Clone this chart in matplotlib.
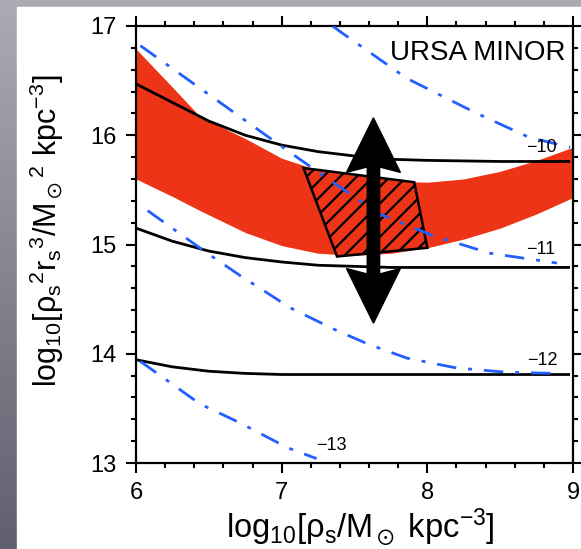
import numpy as np
import matplotlib
matplotlib.use('Agg')
import matplotlib.pyplot as plt
from matplotlib.patches import Polygon, Rectangle
from matplotlib.colors import LinearSegmentedColormap
from matplotlib.ticker import MultipleLocator

plt.rcParams['font.family'] = ['Liberation Sans', 'DejaVu Sans']
plt.rcParams['mathtext.fontset'] = 'custom'
plt.rcParams['mathtext.rm'] = 'Liberation Sans'
plt.rcParams['mathtext.it'] = 'Liberation Sans:italic'
plt.rcParams['mathtext.fallback'] = 'stixsans'
plt.rcParams['hatch.linewidth'] = 1.6

# black contours (flat at large rho_s)
x_black = [6.0, 6.25, 6.5, 6.75, 7.0, 7.25, 7.5, 7.75, 8.0, 8.5, 8.97]
y_m10 = [16.47, 16.30, 16.13, 16.00, 15.91, 15.85, 15.81, 15.78, 15.77, 15.76, 15.76]
y_m11 = [15.15, 15.03, 14.94, 14.88, 14.84, 14.81, 14.80, 14.79, 14.79, 14.79, 14.79]
y_m12 = [13.945, 13.88, 13.84, 13.82, 13.81, 13.81, 13.81, 13.81, 13.81, 13.81, 13.81]

# blue dash-dot contours
xb1 = [7.35, 7.4, 7.86, 8.34, 8.7, 8.98]
yb1 = [17.0, 16.95, 16.52, 16.20, 15.98, 15.89]
xb2 = [6.03, 6.44, 7.06, 7.33, 7.67, 8.04, 8.43, 8.89]
yb2 = [16.82, 16.43, 15.84, 15.59, 15.28, 15.08, 14.92, 14.83]
xb3 = [6.08, 6.49, 6.71, 7.06, 7.35, 7.59, 7.86, 8.2, 8.55, 8.89]
yb3 = [15.31, 14.92, 14.72, 14.42, 14.23, 14.09, 13.96, 13.87, 13.83, 13.82]
xb4 = [6.03, 6.44, 6.71, 7.04, 7.24]
yb4 = [13.93, 13.54, 13.37, 13.14, 13.04]

# red allowed band
x_band = [6.0, 6.25, 6.44, 6.75, 7.0, 7.25, 7.5, 7.75, 8.0, 8.25, 8.5, 8.75, 9.0]
band_hi = [16.79, 16.44, 16.17, 15.97, 15.79, 15.68, 15.62, 15.58, 15.57, 15.60, 15.67, 15.77, 15.89]
band_lo = [15.60, 15.44, 15.31, 15.11, 14.99, 14.92, 14.90, 14.92, 14.97, 15.05, 15.15, 15.28, 15.43]

# hatched region corners
box_x = [7.15, 7.91, 8.0, 7.38]
box_y = [15.70, 15.57, 14.97, 14.89]

# double arrow
arrow_x = 7.63
arrow_top = 16.16
arrow_bot = 14.28

contour_labels = ['\u221210', '\u221211', '\u221212', '\u221213']
label_x = [8.78, 8.78, 8.79, 7.34]
label_y = [15.89, 14.95, 13.94, 13.16]

blue = '#2160ff'
red = '#ee3416'

fig = plt.figure(figsize=(5.81, 5.49), dpi=100)

# gray gradient frame behind a white panel
bg = fig.add_axes([0, 0, 1, 1], zorder=-10)
bg.axis('off')
cmap = LinearSegmentedColormap.from_list('g', ['#5f5f6e', '#ababb4'])
bg.imshow(np.linspace(0, 1, 256)[:, None], cmap=cmap, aspect='auto',
          extent=[0, 1, 0, 1], origin='lower')
bg.add_patch(Rectangle((17 / 581, 0), 1, 1 - 7 / 549, color='white',
                       transform=bg.transAxes))
bg.set_xlim(0, 1)
bg.set_ylim(0, 1)

ax = fig.add_axes([136 / 581, 1 - 463 / 549, 437 / 581, 437 / 549])
ax.set_facecolor('none')

ax.fill_between(x_band, band_lo, band_hi, color=red, lw=0, zorder=1)
ax.add_patch(Polygon(list(zip(box_x, box_y)), closed=True, facecolor=red,
                     edgecolor='black', hatch='//', lw=1.8, zorder=2))

for yy in (y_m10, y_m11, y_m12):
    ax.plot(x_black, yy, color='black', lw=2.0, zorder=3)

for xx, yy in ((xb1, yb1), (xb2, yb2), (xb3, yb3), (xb4, yb4)):
    ax.plot(xx, yy, color=blue, lw=2.0, dashes=(7, 4.3, 1.4, 4.3), zorder=4)

mid = (arrow_top + arrow_bot) / 2
for tip in (arrow_top, arrow_bot):
    ax.arrow(arrow_x, mid, 0, tip - mid, width=0.085, head_width=0.37,
             head_length=0.5, length_includes_head=True, overhang=0.1,
             color='black', zorder=6)

for t, lx, ly in zip(contour_labels, label_x, label_y):
    ax.text(lx, ly, t, fontsize=13, ha='center', va='center', zorder=5)

ax.text(8.95, 16.75, 'URSA MINOR', fontsize=20, ha='right', va='center')

ax.set_xlim(6, 9)
ax.set_ylim(13, 17)
ax.set_xticks([6, 7, 8, 9])
ax.set_yticks([13, 14, 15, 16, 17])
ax.xaxis.set_minor_locator(MultipleLocator(0.2))
ax.yaxis.set_minor_locator(MultipleLocator(0.2))
ax.tick_params(which='both', direction='out', top=True, right=True,
               width=1.5, labelsize=17)
ax.tick_params(which='major', length=7, pad=7)
ax.tick_params(which='minor', length=3.5)
for s in ax.spines.values():
    s.set_linewidth(1.6)

ax.set_xlabel(r'$\mathrm{log_{10}[\rho_s/M_\odot\ kpc^{-3}]}$', fontsize=23.5)
ax.set_ylabel(r'$\mathrm{log_{10}[\rho_s{}^2 r_s{}^3/M_\odot{}^2\ kpc^{-3}]}$',
              fontsize=22)
ax.xaxis.set_label_coords(0.514, -0.1)
ax.yaxis.set_label_coords(-0.16, 0.532)

fig.savefig('out.png', dpi=100)
